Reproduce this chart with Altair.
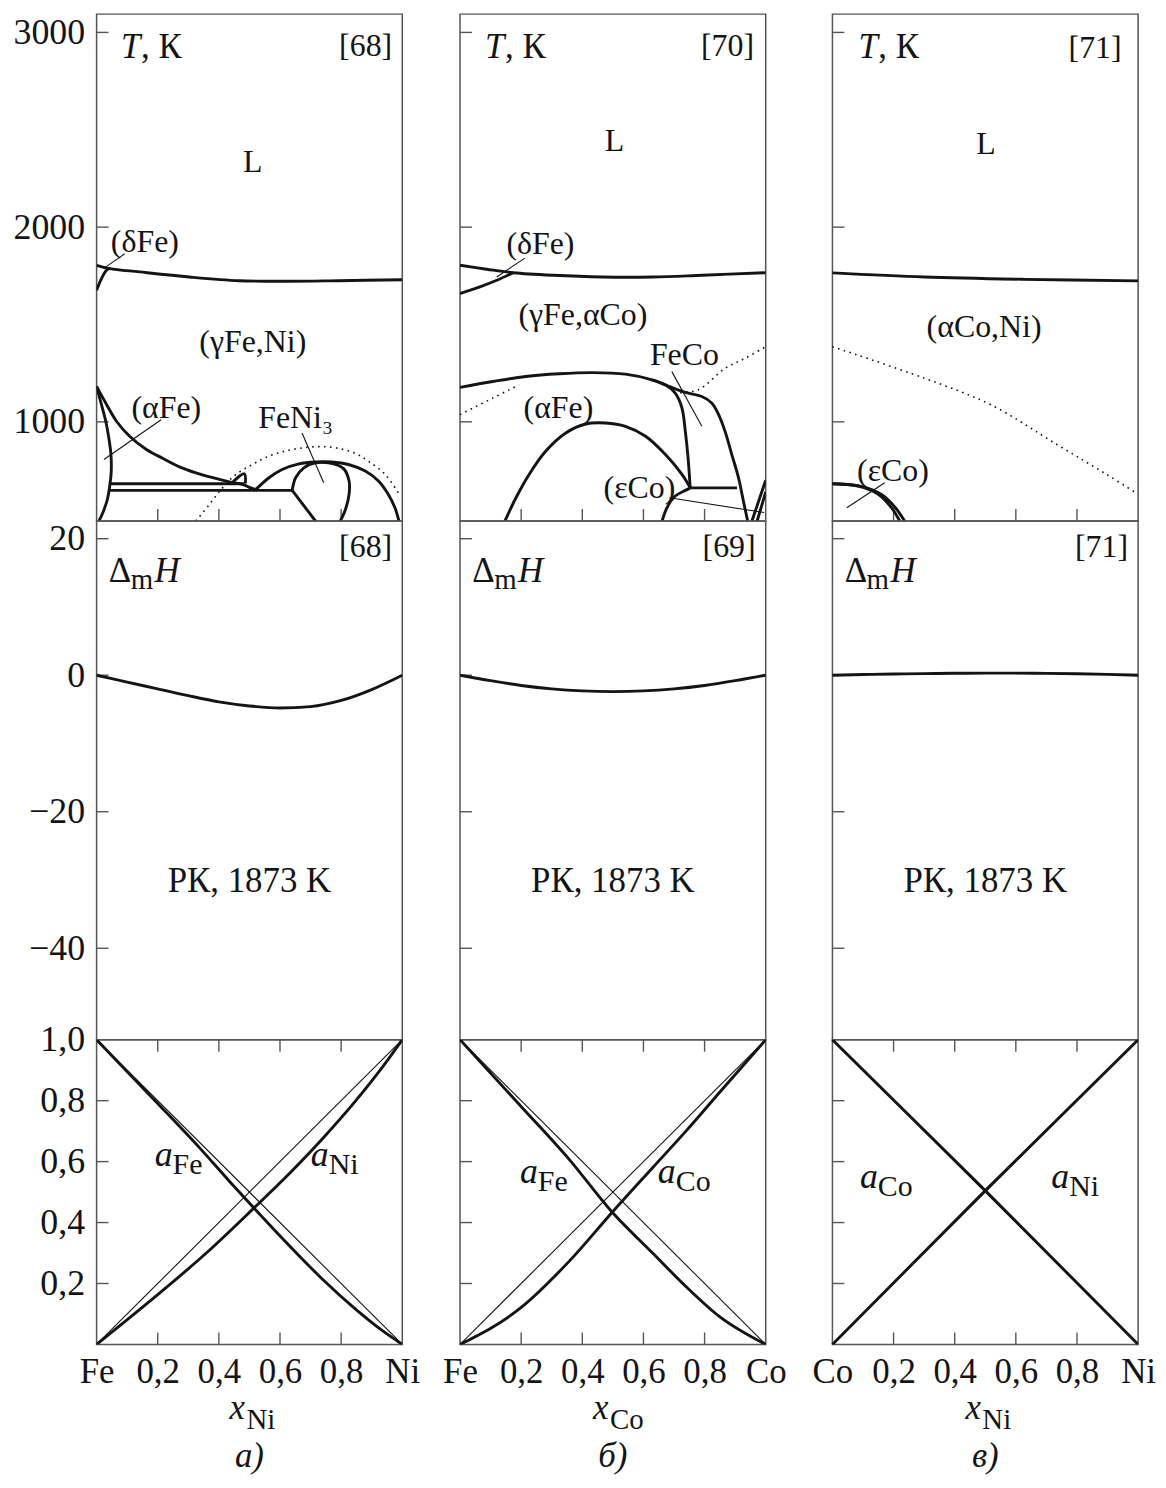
import altair as alt
import pandas as pd

FONT = "Liberation Serif"
INK = "#141414"
FRAME = "#555555"

# ---------------- axes ----------------
X_TICKS = [0, 0.2, 0.4, 0.6, 0.8, 1.0]
X_INNER = [0.2, 0.4, 0.6, 0.8]
T_TICKS = [1000, 2000, 3000]
H_TICKS = [20, 0, -20, -40]
A_TICKS = [0.2, 0.4, 0.6, 0.8, 1.0]
A_INNER = [0.2, 0.4, 0.6, 0.8]
T_DOMAIN = [491, 3094]
H_DOMAIN = [-53.4, 22.6]
A_DOMAIN = [0, 1]
COMPONENTS = [("Fe", "Ni"), ("Fe", "Co"), ("Co", "Ni")]
LETTERS = ["а)", "б)", "в)"]

# ---------------- Fe–Ni phase diagram ----------------
FENI_LIQ_X = [0, 0.043, 0.141, 0.304, 0.467, 0.63, 0.793, 1.0]
FENI_LIQ_T = [1804, 1787, 1770, 1744, 1725, 1722, 1725, 1730]
FENI_DELTA_X = [0, 0.016, 0.033, 0.045]
FENI_DELTA_T = [1676, 1736, 1780, 1789]
FENI_GAMMA_X = [0, 0.033, 0.065, 0.108, 0.163, 0.217, 0.271, 0.325, 0.38, 0.434, 0.477, 0.504, 0.52]
FENI_GAMMA_T = [1182, 1088, 1003, 926, 858, 812, 769, 738, 713, 692, 679, 661, 653]
FENI_ALPHA_X = [0, 0.016, 0.03, 0.04, 0.047, 0.048, 0.044, 0.035, 0.022, 0.008]
FENI_ALPHA_T = [1182, 1088, 1003, 917, 832, 747, 682, 600, 540, 491]
FENI_BAND_HI_X = [0.043, 0.485]
FENI_BAND_HI_T = [682, 682]
FENI_BAND_LO_X = [0.043, 0.64]
FENI_BAND_LO_T = [648, 648]
FENI_HOOK_X = [0.44, 0.483, 0.487]
FENI_HOOK_T = [682, 733, 684]
FENI_DOME_X = [0.521, 0.564, 0.607, 0.662, 0.716, 0.77, 0.824, 0.879, 0.922, 0.954, 0.976, 0.989]
FENI_DOME_T = [653, 713, 755, 784, 794, 794, 781, 747, 696, 628, 559, 491]
FENI_LOOP_X = [0.64, 0.651, 0.678, 0.716, 0.759, 0.808, 0.826, 0.826, 0.816, 0.803, 0.797]
FENI_LOOP_T = [648, 713, 764, 789, 789, 760, 696, 628, 559, 508, 491]
FENI_DIAG_X = [0.64, 0.716]
FENI_DIAG_T = [648, 491]
FENI_CURIE_X = [0.325, 0.369, 0.412, 0.456, 0.51, 0.564, 0.629, 0.694, 0.748, 0.803, 0.85, 0.889, 0.944, 0.99]
FENI_CURIE_T = [491, 576, 661, 730, 781, 824, 854, 870, 872, 860, 835, 798, 730, 628]
FENI_PTR_DELTA_X = [0.092, 0.022]
FENI_PTR_DELTA_T = [1863, 1787]
FENI_PTR_ALPHA_X = [0.211, 0.024]
FENI_PTR_ALPHA_T = [1011, 807]
FENI_PTR_NI3_X = [0.672, 0.743]
FENI_PTR_NI3_T = [943, 687]

# ---------------- Fe–Co phase diagram ----------------
FECO_LIQ_X = [0, 0.087, 0.174, 0.304, 0.467, 0.63, 0.793, 1.0]
FECO_LIQ_T = [1804, 1784, 1766, 1753, 1744, 1744, 1753, 1766]
FECO_DELTA_X = [0, 0.065, 0.12, 0.174]
FECO_DELTA_T = [1659, 1693, 1727, 1766]
FECO_GAMMA_X = [0, 0.107, 0.215, 0.324, 0.433, 0.541, 0.628, 0.683, 0.737, 0.791, 0.824, 0.846,
                0.867, 0.889, 0.911, 0.927, 0.941]
FECO_GAMMA_T = [1177, 1207, 1233, 1247, 1253, 1245, 1216, 1182, 1151, 1130, 1096, 1037,
                951, 832, 713, 593, 491]
FECO_INNER_X = [0.628, 0.672, 0.704, 0.726, 0.737, 0.746, 0.753]
FECO_INNER_T = [1216, 1190, 1147, 1071, 951, 815, 661]
FECO_SHELF_X = [0.753, 0.906]
FECO_SHELF_T = [661, 661]
FECO_ORDER_X = [0.147, 0.183, 0.226, 0.28, 0.346, 0.411, 0.476, 0.541, 0.607, 0.672, 0.726, 0.753]
FECO_ORDER_T = [491, 610, 730, 849, 943, 989, 994, 977, 926, 832, 730, 661]
FECO_EPS_X = [0.661, 0.677, 0.704, 0.737, 0.753]
FECO_EPS_T = [491, 559, 619, 648, 661]
FECO_CO1_X = [0.955, 1.0]
FECO_CO1_T = [491, 700]
FECO_CO2_X = [0.972, 1.0]
FECO_CO2_T = [491, 640]
FECO_CURIE1_X = [0, 0.107, 0.193]
FECO_CURIE1_T = [1037, 1122, 1190]
FECO_CURIE2_X = [0.72, 0.78, 0.867, 0.932, 1.0]
FECO_CURIE2_T = [1150, 1165, 1275, 1326, 1386]
FECO_PTR_DELTA_X = [0.212, 0.12]
FECO_PTR_DELTA_T = [1841, 1744]
FECO_PTR_FECO_X = [0.693, 0.791]
FECO_PTR_FECO_T = [1258, 977]
FECO_PTR_EPS_X = [0.685, 0.995]
FECO_PTR_EPS_T = [610, 534]

# ---------------- Co–Ni phase diagram ----------------
CONI_LIQ_X = [0, 0.301, 0.626, 1.0]
CONI_LIQ_T = [1765, 1744, 1732, 1724]
CONI_CURIE_X = [0, 0.301, 0.518, 0.735, 0.897, 1.0]
CONI_CURIE_T = [1386, 1224, 1088, 883, 730, 628]
CONI_EPS1_X = [0, 0.085, 0.15, 0.193, 0.22]
CONI_EPS1_T = [682, 670, 628, 559, 491]
CONI_EPS2_X = [0, 0.095, 0.163, 0.208, 0.236]
CONI_EPS2_T = [682, 668, 624, 555, 491]
CONI_PTR_X = [0.171, 0.047]
CONI_PTR_T = [687, 559]

# ---------------- enthalpy of mixing, kJ/mol ----------------
H_X = [0, 0.1, 0.2, 0.3, 0.4, 0.5, 0.6, 0.7, 0.8, 0.9, 1.0]
FENI_H = [0, -1.0, -2.0, -3.0, -3.9, -4.5, -4.8, -4.6, -3.7, -2.1, 0]
FECO_H = [0, -0.8, -1.5, -2.0, -2.3, -2.4, -2.3, -2.0, -1.5, -0.8, 0]
CONI_H = [0, 0.1, 0.18, 0.24, 0.28, 0.3, 0.3, 0.27, 0.22, 0.13, 0]

# ---------------- activities ----------------
IDEAL_X = [0, 1]
IDEAL_DOWN = [1, 0]
IDEAL_UP = [0, 1]
FENI_AFE_X = [0, 0.196, 0.337, 0.435, 0.511, 0.63, 0.739, 0.848, 0.935, 1]
FENI_AFE = [1, 0.795, 0.645, 0.535, 0.452, 0.325, 0.214, 0.115, 0.045, 0]
FENI_ANI_X = [0, 0.196, 0.359, 0.511, 0.63, 0.739, 0.848, 0.935, 1]
FENI_ANI = [0, 0.16, 0.300, 0.444, 0.56, 0.675, 0.80, 0.91, 1]
FECO_AFE_X = [0, 0.196, 0.359, 0.498, 0.63, 0.739, 0.848, 1]
FECO_AFE = [1, 0.785, 0.605, 0.434, 0.3, 0.19, 0.092, 0]
FECO_ACO_X = [0, 0.196, 0.359, 0.498, 0.63, 0.739, 0.848, 1]
FECO_ACO = [0, 0.118, 0.275, 0.434, 0.58, 0.70, 0.826, 1]
CONI_ACO_X = [0, 0.5, 1]
CONI_ACO = [1, 0.505, 0]
CONI_ANI_X = [0, 0.5, 1]
CONI_ANI = [0, 0.505, 1]

# ---------------- text styles ----------------
STYLES = {
    "c": dict(fontSize=32, align="center", baseline="middle"),
    "cw": dict(fontSize=35, align="center", baseline="middle"),
    "ref": dict(fontSize=32, align="right", baseline="middle"),
    "T": dict(fontSize=35, fontStyle="italic", align="left", baseline="middle"),
    "Tk": dict(fontSize=35, align="left", baseline="middle", dx=20),
    "D": dict(fontSize=35, align="left", baseline="middle"),
    "Dm": dict(fontSize=29, align="left", baseline="middle", dx=22, dy=9),
    "DH": dict(fontSize=35, fontStyle="italic", align="left", baseline="middle", dx=46),
    "a": dict(fontSize=36, fontStyle="italic", align="left", baseline="middle"),
    "asub": dict(fontSize=30, align="left", baseline="middle", dx=18, dy=10),
    "x": dict(fontSize=35, fontStyle="italic", align="left", baseline="alphabetic", below=75),
    "xsub": dict(fontSize=29, align="left", baseline="alphabetic", dx=17, below=85),
    "letter": dict(fontSize=35, fontStyle="italic", align="center", baseline="middle", below=112),
}


def seg_frame(pairs):
    rows = []
    for k, (xs, ys) in enumerate(pairs):
        for i, (x, y) in enumerate(zip(xs, ys)):
            rows.append({"seg": k, "i": i, "x": x, "y": y})
    return pd.DataFrame(rows)


def y_axis(values, expr):
    return alt.Axis(values=values, labelExpr=expr, ticks=False, tickSize=0, domain=False,
                    grid=False, title=None, labelFont=FONT, labelFontSize=36,
                    labelColor=INK, labelPadding=12, labelFlush=False, labelOverlap=False)


def x_axis(left, right):
    expr = (f"datum.value == 0 ? '{left}' : (datum.value == 1 ? '{right}' : "
            "replace(format(datum.value, '.1f'), '.', ','))")
    return alt.Axis(values=X_TICKS, labelExpr=expr, ticks=False, tickSize=0, domain=False,
                    grid=False, title=None, labelFont=FONT, labelFontSize=35,
                    labelColor=INK, labelPadding=10, labelFlush=False, labelOverlap=False)


def panel(width, x_range, height, y_domain, xax, yax, thick=(), thin=(), dotted=(),
          labels=(), y_ticks=(), x_ticks_top=(), x_ticks_bottom=(), smooth="catmull-rom"):
    xs = alt.Scale(domain=[0, 1], range=x_range, nice=False, zero=False)
    ys = alt.Scale(domain=y_domain, nice=False, zero=False)

    def X(f):
        return alt.X(f, type="quantitative", scale=xs, axis=xax)

    def Y(f):
        return alt.Y(f, type="quantitative", scale=ys, axis=yax)

    y0, y1 = y_domain
    layers = [
        alt.Chart(pd.DataFrame({"x": [0.0], "x2": [1.0], "y": [y0], "y2": [y1]}))
        .mark_rect(fillOpacity=0, stroke=FRAME, strokeWidth=1.5)
        .encode(x=X("x"), x2="x2", y=Y("y"), y2="y2")
    ]
    # inward ticks
    if y_ticks:
        d = pd.DataFrame({"x": [0.0] * len(y_ticks), "y": list(y_ticks)})
        layers.append(alt.Chart(d).mark_rule(color=FRAME, strokeWidth=1.4, x2Offset=12)
                      .encode(x=X("x"), x2="x", y=Y("y")))
    if x_ticks_bottom:
        d = pd.DataFrame({"x": list(x_ticks_bottom), "y": [y0] * len(x_ticks_bottom)})
        layers.append(alt.Chart(d).mark_rule(color=FRAME, strokeWidth=1.4, y2Offset=-12)
                      .encode(x=X("x"), y=Y("y"), y2="y"))
    if x_ticks_top:
        d = pd.DataFrame({"x": list(x_ticks_top), "y": [y1] * len(x_ticks_top)})
        layers.append(alt.Chart(d).mark_rule(color=FRAME, strokeWidth=1.4, y2Offset=12)
                      .encode(x=X("x"), y=Y("y"), y2="y"))
    # curves
    if dotted:
        layers.append(alt.Chart(seg_frame(dotted))
                      .mark_line(color=INK, strokeWidth=1.6, strokeDash=[1.6, 4.4],
                                 interpolate="catmull-rom", clip=True)
                      .encode(x=X("x"), y=Y("y"), detail="seg:N", order="i:Q"))
    if thin:
        layers.append(alt.Chart(seg_frame(thin))
                      .mark_line(color=INK, strokeWidth=1.1, clip=True)
                      .encode(x=X("x"), y=Y("y"), detail="seg:N", order="i:Q"))
    if thick:
        layers.append(alt.Chart(seg_frame(thick))
                      .mark_line(color=INK, strokeWidth=2.9, interpolate=smooth,
                                 clip=True, strokeJoin="round")
                      .encode(x=X("x"), y=Y("y"), detail="seg:N", order="i:Q"))
    # text
    order = []
    for it in labels:
        if it[3] not in order:
            order.append(it[3])
    for st in order:
        rows = [it for it in labels if it[3] == st]
        props = dict(STYLES[st])
        below = props.pop("below", None)
        df = pd.DataFrame({"text": [r[0] for r in rows], "x": [r[1] for r in rows],
                           "y": [r[2] if r[2] is not None else 0 for r in rows]})
        enc = {"x": X("x"), "text": "text:N"}
        enc["y"] = Y("y") if below is None else alt.value(height + below)
        layers.append(alt.Chart(df).mark_text(font=FONT, color=INK, **props).encode(**enc))
    return alt.layer(*layers).properties(width=width, height=height)


COL_W = [307, 307, 316]
COL_RANGE = [[0, 307], [0, 307], [9, 316]]
ROW_H = [509, 521, 306]

T_AX = y_axis(T_TICKS, "format(datum.value, 'd')")
H_AX = y_axis(H_TICKS, "format(datum.value, 'd')")
A_AX = y_axis(A_TICKS, "replace(format(datum.value, '.1f'), '.', ',')")

# phase diagram contents per system
PHASE = [
    dict(
        thick=[(FENI_LIQ_X, FENI_LIQ_T), (FENI_DELTA_X, FENI_DELTA_T), (FENI_GAMMA_X, FENI_GAMMA_T),
               (FENI_ALPHA_X, FENI_ALPHA_T), (FENI_BAND_HI_X, FENI_BAND_HI_T),
               (FENI_BAND_LO_X, FENI_BAND_LO_T), (FENI_HOOK_X, FENI_HOOK_T),
               (FENI_DOME_X, FENI_DOME_T), (FENI_LOOP_X, FENI_LOOP_T), (FENI_DIAG_X, FENI_DIAG_T)],
        thin=[(FENI_PTR_DELTA_X, FENI_PTR_DELTA_T), (FENI_PTR_ALPHA_X, FENI_PTR_ALPHA_T),
              (FENI_PTR_NI3_X, FENI_PTR_NI3_T)],
        dotted=[(FENI_CURIE_X, FENI_CURIE_T)],
        labels=[("T", 0.08, 2926, "T"), (", К", 0.08, 2926, "Tk"), ("[68]", 0.967, 2931, "ref"),
                ("L", 0.511, 2332, "c"), ("(γFe,Ni)", 0.511, 1412, "c"), ("(δFe)", 0.158, 1923, "c"),
                ("(αFe)", 0.228, 1071, "c"), ("FeNi₃", 0.651, 1020, "c")],
    ),
    dict(
        thick=[(FECO_LIQ_X, FECO_LIQ_T), (FECO_DELTA_X, FECO_DELTA_T), (FECO_GAMMA_X, FECO_GAMMA_T),
               (FECO_INNER_X, FECO_INNER_T), (FECO_SHELF_X, FECO_SHELF_T),
               (FECO_ORDER_X, FECO_ORDER_T), (FECO_EPS_X, FECO_EPS_T),
               (FECO_CO1_X, FECO_CO1_T), (FECO_CO2_X, FECO_CO2_T)],
        thin=[(FECO_PTR_DELTA_X, FECO_PTR_DELTA_T), (FECO_PTR_FECO_X, FECO_PTR_FECO_T),
              (FECO_PTR_EPS_X, FECO_PTR_EPS_T)],
        dotted=[(FECO_CURIE1_X, FECO_CURIE1_T), (FECO_CURIE2_X, FECO_CURIE2_T)],
        labels=[("T", 0.082, 2926, "T"), (", К", 0.082, 2926, "Tk"), ("[70]", 0.962, 2931, "ref"),
                ("L", 0.505, 2443, "c"), ("(δFe)", 0.263, 1915, "c"), ("(γFe,αCo)", 0.402, 1548, "c"),
                ("FeCo", 0.734, 1344, "c"), ("(αFe)", 0.322, 1072, "c"), ("(εCo)", 0.587, 661, "c")],
    ),
    dict(
        thick=[(CONI_LIQ_X, CONI_LIQ_T), (CONI_EPS1_X, CONI_EPS1_T), (CONI_EPS2_X, CONI_EPS2_T)],
        thin=[(CONI_PTR_X, CONI_PTR_T)],
        dotted=[(CONI_CURIE_X, CONI_CURIE_T)],
        labels=[("T", 0.085, 2926, "T"), (", К", 0.085, 2926, "Tk"), ("[71]", 0.946, 2921, "ref"),
                ("L", 0.502, 2426, "c"), ("(αCo,Ni)", 0.496, 1489, "c"), ("(εCo)", 0.198, 747, "c")],
    ),
]

ENTHALPY = [
    dict(thick=[(H_X, FENI_H)], ref="[68]"),
    dict(thick=[(H_X, FECO_H)], ref="[69]"),
    dict(thick=[(H_X, CONI_H)], ref="[71]"),
]

ACTIVITY = [
    dict(thick=[(FENI_AFE_X, FENI_AFE), (FENI_ANI_X, FENI_ANI)],
         labels=[("a", 0.19, 0.621, "a"), ("Fe", 0.19, 0.621, "asub"),
                 ("a", 0.701, 0.621, "a"), ("Ni", 0.701, 0.621, "asub")]),
    dict(thick=[(FECO_AFE_X, FECO_AFE), (FECO_ACO_X, FECO_ACO)],
         labels=[("a", 0.196, 0.565, "a"), ("Fe", 0.196, 0.565, "asub"),
                 ("a", 0.647, 0.565, "a"), ("Co", 0.647, 0.565, "asub")]),
    dict(thick=[(CONI_ACO_X, CONI_ACO), (CONI_ANI_X, CONI_ANI)],
         labels=[("a", 0.09, 0.548, "a"), ("Co", 0.09, 0.548, "asub"),
                 ("a", 0.716, 0.548, "a"), ("Ni", 0.716, 0.548, "asub")]),
]

top_row, mid_row, low_row = [], [], []
for c in range(3):
    left, right = COMPONENTS[c]
    first = c == 0
    top_row.append(panel(COL_W[c], COL_RANGE[c], ROW_H[0], T_DOMAIN, None, T_AX if first else None,
                         thick=PHASE[c]["thick"], thin=PHASE[c]["thin"], dotted=PHASE[c]["dotted"],
                         labels=PHASE[c]["labels"], y_ticks=T_TICKS, x_ticks_bottom=X_INNER))
    mid_labels = [("Δ", 0.04, 15.2, "D"), ("m", 0.04, 15.2, "Dm"), ("H", 0.04, 15.2, "DH"),
                  (ENTHALPY[c]["ref"], 0.967, 18.8, "ref"), ("РК, 1873 K", 0.5, -30.2, "cw")]
    mid_row.append(panel(COL_W[c], COL_RANGE[c], ROW_H[1], H_DOMAIN, None, H_AX if first else None,
                         thick=ENTHALPY[c]["thick"], labels=mid_labels, y_ticks=H_TICKS,
                         smooth="monotone"))
    low_labels = ACTIVITY[c]["labels"] + [("x", 0.435, None, "x"), (right, 0.435, None, "xsub"),
                                          (LETTERS[c], 0.5, None, "letter")]
    low_row.append(panel(COL_W[c], COL_RANGE[c], ROW_H[2], A_DOMAIN, x_axis(left, right),
                         A_AX if first else None,
                         thick=ACTIVITY[c]["thick"],
                         thin=[(IDEAL_X, IDEAL_DOWN), (IDEAL_X, IDEAL_UP)],
                         labels=low_labels, y_ticks=A_INNER,
                         x_ticks_top=X_INNER, x_ticks_bottom=X_INNER, smooth="monotone"))

chart = alt.concat(
    *(top_row + mid_row + low_row),
    columns=3,
    spacing={"row": 0, "column": 58},
    bounds="flush",
    align="each",
).properties(
    padding={"left": 13, "top": 10, "right": 10, "bottom": 10},
    background="white",
).configure_view(stroke=None)

chart.save("out.html", embed_options={"renderer": "svg", "actions": False})
